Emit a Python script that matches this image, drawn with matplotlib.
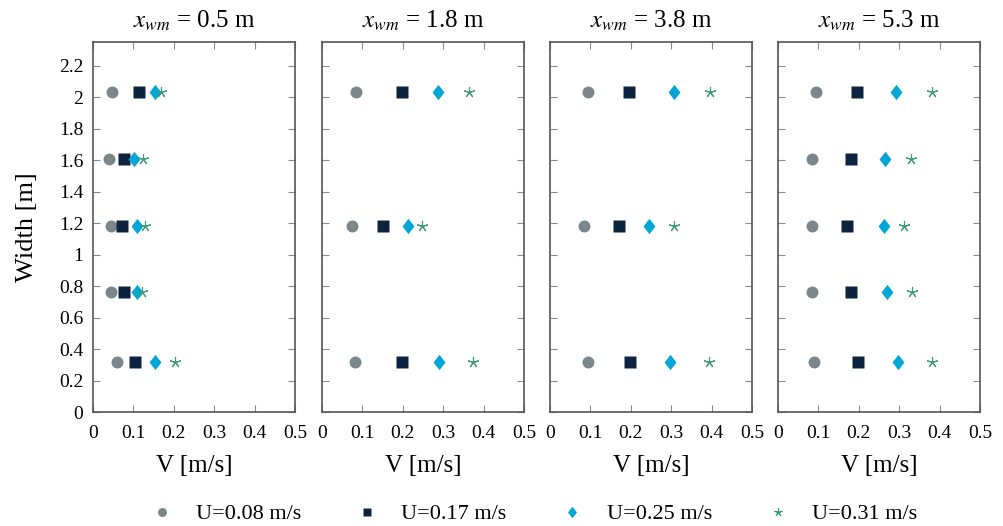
import matplotlib.pyplot as plt
from matplotlib.path import Path

plt.rcParams['font.family'] = ['Liberation Serif', 'DejaVu Serif']
plt.rcParams['mathtext.fontset'] = 'stix'

# positions of the probes across the width [m]
widths = [2.03, 1.61, 1.18, 0.76, 0.32]

titles = ['0.5', '1.8', '3.8', '5.3']
flows = ['U=0.08 m/s', 'U=0.17 m/s', 'U=0.25 m/s', 'U=0.31 m/s']

# V [m/s] per panel, per flow; None = no measurement
v_05 = [[0.048, 0.040, 0.045, 0.045, 0.059],
        [0.114, 0.078, 0.072, 0.077, 0.104],
        [0.153, 0.101, 0.109, 0.108, 0.153],
        [0.168, 0.123, 0.129, 0.122, 0.202]]
v_18 = [[0.085, None, 0.074, None, 0.082],
        [0.199, None, 0.152, None, 0.199],
        [0.288, None, 0.213, None, 0.290],
        [0.363, None, 0.248, None, 0.375]]
v_38 = [[0.095, None, 0.084, None, 0.093],
        [0.196, None, 0.172, None, 0.199],
        [0.308, None, 0.245, None, 0.298],
        [0.396, None, 0.308, None, 0.393]]
v_53 = [[0.094, 0.084, 0.084, 0.084, 0.090],
        [0.195, 0.180, 0.170, 0.180, 0.198],
        [0.291, 0.266, 0.263, 0.271, 0.296],
        [0.381, 0.328, 0.311, 0.331, 0.381]]
panels = [v_05, v_18, v_38, v_53]

colors = ['#7b868c', '#0c2340', '#00a6d6', '#3f9c78']
diamond = Path([(0, 1), (0.78, 0), (0, -1), (-0.78, 0), (0, 1)],
               [Path.MOVETO, Path.LINETO, Path.LINETO, Path.LINETO, Path.CLOSEPOLY])
markers = ['o', 's', diamond, (5, 2, 0)]
sizes = [8.6, 8.6, 11, 8]

fig = plt.figure(figsize=(10.04, 5.26), dpi=100)
lefts = [0.0926, 0.3207, 0.5478, 0.7749]
handles = []
for i, (data, t) in enumerate(zip(panels, titles)):
    ax = fig.add_axes([lefts[i], 0.2167, 0.2012, 0.7034])
    for k in range(4):
        xs = [v for v in data[k] if v is not None]
        ys = [w for v, w in zip(data[k], widths) if v is not None]
        if k == 3:
            h, = ax.plot(xs, ys, ls='none', marker=markers[k], ms=sizes[k],
                         color=colors[k], mew=0.8)
        else:
            h, = ax.plot(xs, ys, ls='none', marker=markers[k], ms=sizes[k],
                         color=colors[k], mec='none')
        if i == 0:
            handles.append(h)
    ax.set_xlim(0, 0.5)
    ax.set_ylim(0, 2.35)
    ax.set_xticks([0, 0.1, 0.2, 0.3, 0.4, 0.5])
    ax.set_xticklabels(['0', '0.1', '0.2', '0.3', '0.4', '0.5'])
    ax.set_yticks([0.2 * j for j in range(12)])
    if i == 0:
        ax.set_yticklabels(['0', '0.2', '0.4', '0.6', '0.8', '1', '1.2', '1.4',
                            '1.6', '1.8', '2', '2.2'])
        ax.set_ylabel('Width [m]', fontsize=19, labelpad=15)
    else:
        ax.set_yticklabels([])
    ax.tick_params(direction='in', top=True, right=True, length=5,
                   color='#8a8a8a', labelsize=14, pad=7)
    ax.tick_params(axis='x', pad=9)
    for s in ax.spines.values():
        s.set_color('#555555')
        s.set_linewidth(1.2)
    ax.set_xlabel('V [m/s]', fontsize=18, labelpad=10)
    ax.set_title(r'$x_{wm}$ = ' + t + ' m', fontsize=18, pad=10)

fig.legend(handles, flows, loc='lower center', ncol=4, frameon=False,
           fontsize=16, bbox_to_anchor=(0.529, -0.035), columnspacing=2.2,
           handletextpad=0.8, handlelength=1.5,
           markerscale=0.75)
fig.savefig('out.png', dpi=100)
